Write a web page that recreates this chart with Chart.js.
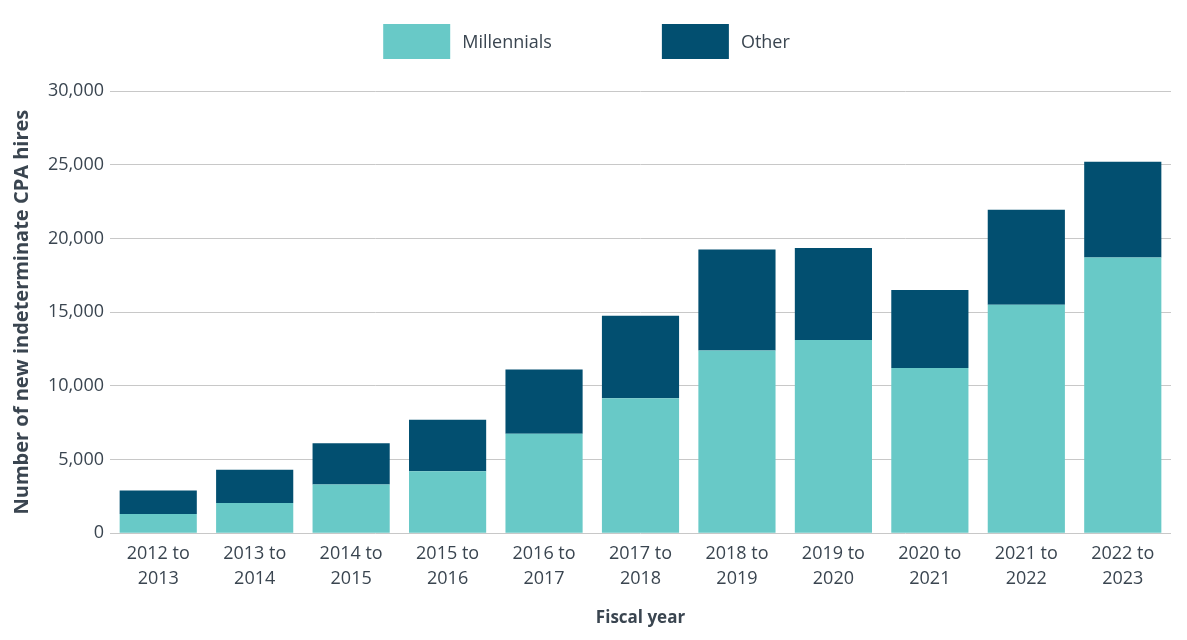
<!DOCTYPE html>
<html>
<head>
<meta charset="utf-8">
<title>New indeterminate CPA hires</title>
<script src="https://cdn.jsdelivr.net/npm/chart.js@4.4.0/dist/chart.umd.min.js"></script>
<style>
  html, body { margin: 0; padding: 0; background: #fff; }
  #wrap { width: 1187px; height: 640px; position: relative; }
</style>
</head>
<body>
<div id="wrap"><canvas id="chart"></canvas></div>
<script>
const fiscalYears = [
    ['2012 to', '2013'], ['2013 to', '2014'], ['2014 to', '2015'], ['2015 to', '2016'],
    ['2016 to', '2017'], ['2017 to', '2018'], ['2018 to', '2019'], ['2019 to', '2020'],
    ['2020 to', '2021'], ['2021 to', '2022'], ['2022 to', '2023']
];
const millennials = [1300, 2050, 3300, 4200, 6750, 9150, 12400, 13100, 11200, 15500, 18700];
const other = [1600, 2250, 2800, 3500, 4350, 5600, 6850, 6250, 5300, 6450, 6500];
const yTicks = [0, 5000, 10000, 15000, 20000, 25000, 30000];

const textColor = '#3a4550';
const fontFamily = '"Open Sans", "Noto Sans", sans-serif';

// legend drawn by hand so the wide gap between the two items can be kept
const topLegend = {
    id: 'topLegend',
    afterDraw(chart) {
        const ctx = chart.ctx;
        const items = chart.data.datasets;
        const boxW = 67, boxH = 35, gap = 12, spacing = 110;
        ctx.save();
        ctx.font = '18px ' + fontFamily;
        let widths = items.map(ds => boxW + gap + ctx.measureText(ds.label).width);
        let total = widths.reduce((a, b) => a + b, 0) + spacing * (items.length - 1);
        let x = chart.width / 2 - total / 2 - 7;
        const y = 24;
        items.forEach((ds, i) => {
            ctx.fillStyle = ds.backgroundColor;
            ctx.fillRect(x, y, boxW, boxH);
            ctx.fillStyle = textColor;
            ctx.textBaseline = 'middle';
            ctx.fillText(ds.label, x + boxW + gap, y + boxH / 2 + 1);
            x += widths[i] + spacing;
        });
        ctx.restore();
    }
};

new Chart(document.getElementById('chart'), {
    type: 'bar',
    data: {
        labels: fiscalYears,
        datasets: [
            {
                label: 'Millennials',
                data: millennials,
                backgroundColor: '#68c9c7',
                barPercentage: 0.8,
                categoryPercentage: 1.0
            },
            {
                label: 'Other',
                data: other,
                backgroundColor: '#024f70',
                barPercentage: 0.8,
                categoryPercentage: 1.0
            }
        ]
    },
    options: {
        responsive: true,
        maintainAspectRatio: false,
        animation: false,
        layout: {
            padding: { top: 91, right: 16, left: 6, bottom: 12 }
        },
        plugins: {
            legend: { display: false },
            tooltip: { enabled: false }
        },
        scales: {
            x: {
                stacked: true,
                grid: { display: false, drawTicks: false },
                border: { display: false },
                ticks: {
                    color: textColor,
                    font: { family: fontFamily, size: 18, lineHeight: 1.4 },
                    padding: 8,
                    maxRotation: 0
                },
                title: {
                    display: true,
                    text: 'Fiscal year',
                    color: textColor,
                    font: { family: fontFamily, size: 17, weight: 'bold' },
                    padding: { top: 8, bottom: 0 }
                }
            },
            y: {
                stacked: true,
                min: 0,
                max: 30000,
                afterBuildTicks(scale) {
                    scale.ticks = yTicks.map(v => ({ value: v }));
                },
                afterFit(scale) {
                    scale.width = 104;
                },
                grid: { color: '#c8c8c8', drawTicks: false, lineWidth: 1 },
                border: { display: false },
                ticks: {
                    color: textColor,
                    font: { family: fontFamily, size: 18 },
                    padding: 6,
                    callback: v => v.toLocaleString('en-US')
                },
                title: {
                    display: true,
                    text: 'Number of new indeterminate CPA hires',
                    color: textColor,
                    font: { family: fontFamily, size: 20, weight: 'bold' },
                    padding: { bottom: 4 }
                }
            }
        }
    },
    plugins: [topLegend]
});
</script>
</body>
</html>
